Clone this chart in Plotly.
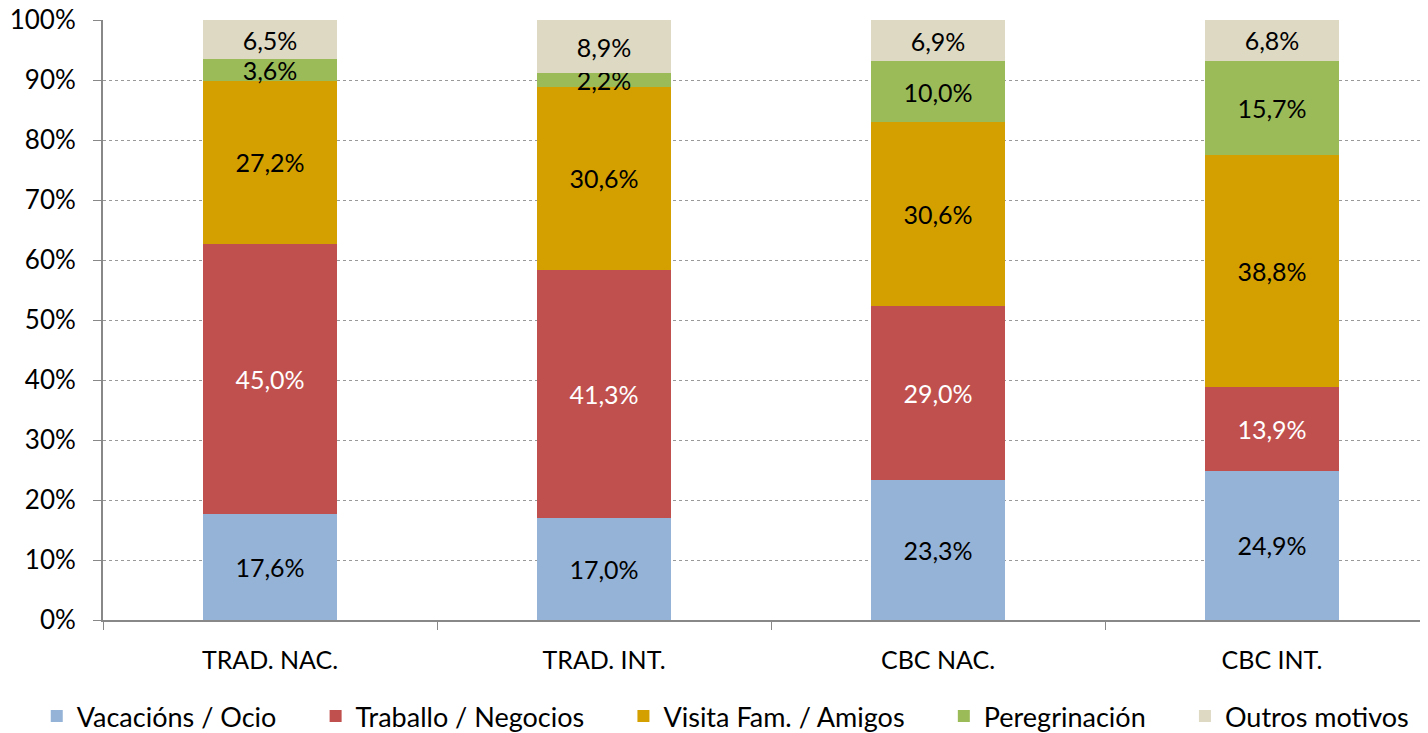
import plotly.graph_objects as go

categories = ["TRAD. NAC.", "TRAD. INT.", "CBC NAC.", "CBC INT."]
series_names = ["Vacacións / Ocio", "Traballo / Negocios", "Visita Fam. / Amigos", "Peregrinación", "Outros motivos"]
vacacions = [17.6, 17.0, 23.3, 24.9]
traballo = [45.0, 41.3, 29.0, 13.9]
visita = [27.2, 30.6, 30.6, 38.8]
peregrinacion = [3.6, 2.2, 10.0, 15.7]
outros = [6.5, 8.9, 6.9, 6.8]
y_ticks = [0, 10, 20, 30, 40, 50, 60, 70, 80, 90, 100]

series_values = [vacacions, traballo, visita, peregrinacion, outros]
colors = ["#95B3D7", "#C0504D", "#D4A000", "#9BBB59", "#DDD9C3"]
text_colors = ["#000000", "#FFFFFF", "#000000", "#000000", "#000000"]

FONT = "Lato"
PAD = "\u00a0" * 3 + "\u2002"

fig = go.Figure()
n = len(series_names)
for i, (name, vals, col, tcol) in enumerate(zip(series_names, series_values, colors, text_colors)):
    fig.add_trace(go.Bar(
        name=name + (PAD if i < n - 1 else ""), x=categories, y=vals,
        marker=dict(color=col, line=dict(width=0)),
        text=[f"{v:.1f}%".replace(".", ",") for v in vals],
        textposition="inside", insidetextanchor="middle",
        textfont=dict(family=FONT, size=25, color=tcol),
        cliponaxis=False,
        width=0.4,
    ))

fig.update_layout(
    barmode="stack", barnorm="percent",
    width=1420, height=725,
    margin=dict(l=95, r=0, t=12, b=113, autoexpand=False),
    plot_bgcolor="white", paper_bgcolor="white",
    font=dict(family=FONT, size=26, color="#000000"),
    uniformtext=dict(minsize=25, mode="show"),
    showlegend=True,
    legend=dict(orientation="h", x=-0.05, xanchor="left", y=-0.12, yanchor="top",
                font=dict(family=FONT, size=27), traceorder="normal",
                itemwidth=30),
    xaxis=dict(
        type="category", tickson="boundaries", ticks="outside", ticklen=8,
        tickcolor="#888888", showline=True, linecolor="#888888", linewidth=2,
        showgrid=False, tickfont=dict(family=FONT, size=25),
        range=[-0.5, 3.467], ticklabelstandoff=17, automargin=False,
    ),
    yaxis=dict(
        range=[0, 100], tickvals=y_ticks, ticktext=[f"{t}%" for t in y_ticks],
        ticks="outside", ticklen=8, tickcolor="#888888",
        showline=True, linecolor="#888888", linewidth=2,
        showgrid=True, gridcolor="#999999", gridwidth=1, griddash="dot",
        tickfont=dict(family=FONT, size=26), ticklabelstandoff=12,
        ticklabeloverflow="allow",
        zeroline=False, automargin=False,
    ),
)

fig.write_html("out.html")
